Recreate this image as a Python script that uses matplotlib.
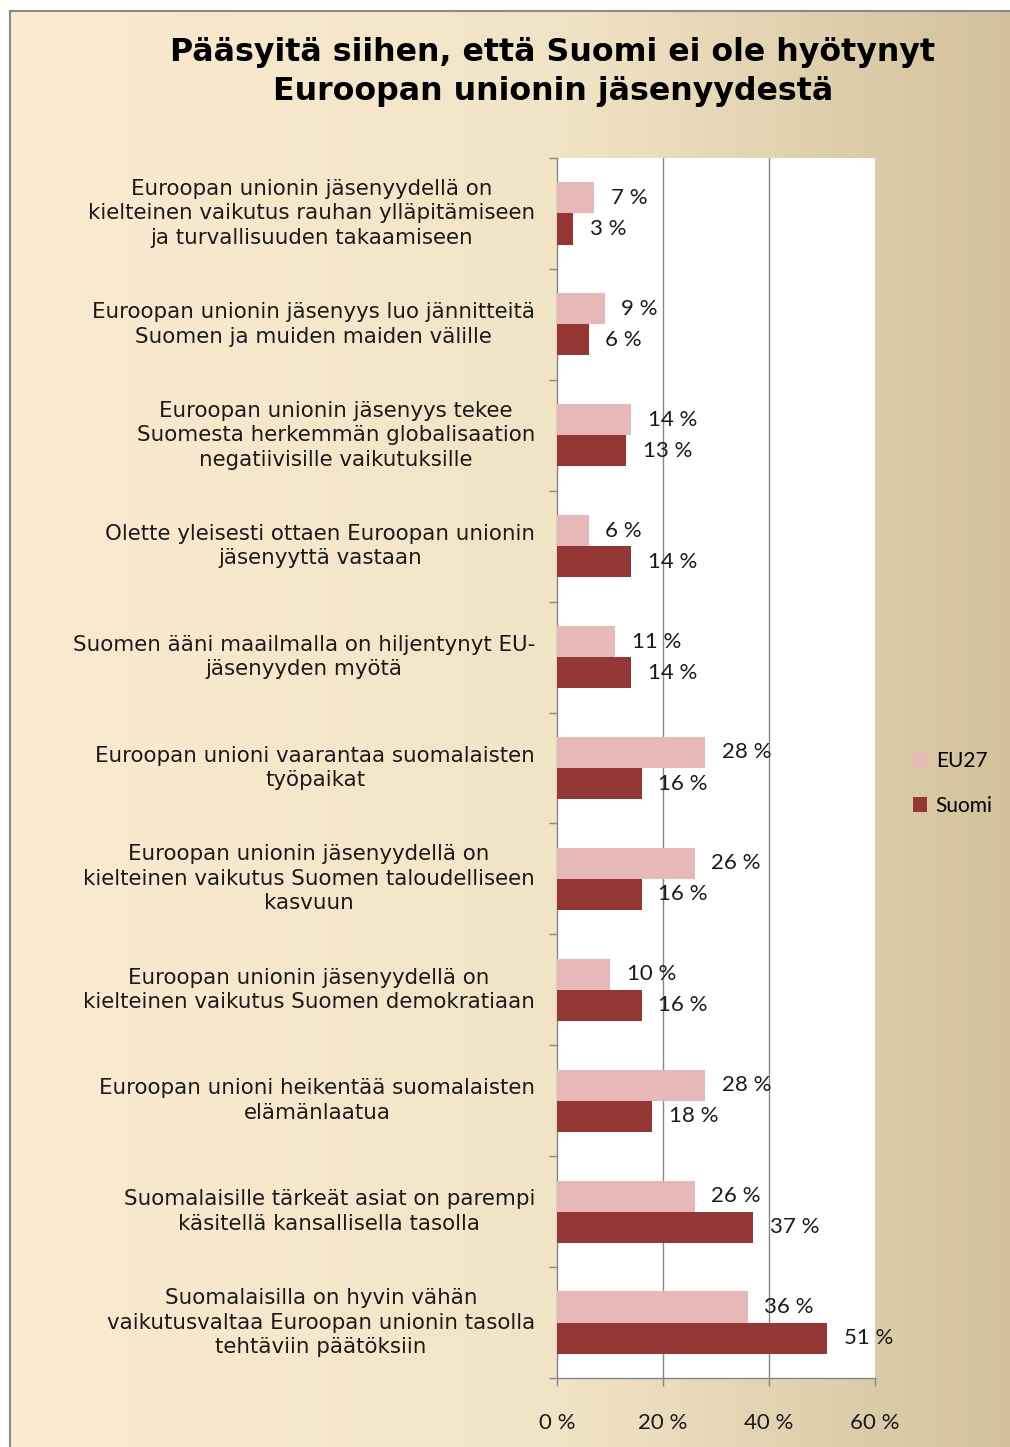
import numpy as np
import matplotlib
matplotlib.use("Agg")
import matplotlib.pyplot as plt
from matplotlib.colors import LinearSegmentedColormap
import matplotlib.transforms as mtransforms

# aineisto ylhäältä alas
categories = [
    "Euroopan unionin jäsenyydellä on\nkielteinen vaikutus rauhan ylläpitämiseen\nja turvallisuuden takaamiseen",
    "Euroopan unionin jäsenyys luo jännitteitä\nSuomen ja muiden maiden välille",
    "Euroopan unionin jäsenyys tekee\nSuomesta herkemmän globalisaation\nnegatiivisille vaikutuksille",
    "Olette yleisesti ottaen Euroopan unionin\njäsenyyttä vastaan",
    "Suomen ääni maailmalla on hiljentynyt EU-\njäsenyyden myötä",
    "Euroopan unioni vaarantaa suomalaisten\ntyöpaikat",
    "Euroopan unionin jäsenyydellä on\nkielteinen vaikutus Suomen taloudelliseen\nkasvuun",
    "Euroopan unionin jäsenyydellä on\nkielteinen vaikutus Suomen demokratiaan",
    "Euroopan unioni heikentää suomalaisten\nelämänlaatua",
    "Suomalaisille tärkeät asiat on parempi\nkäsitellä kansallisella tasolla",
    "Suomalaisilla on hyvin vähän\nvaikutusvaltaa Euroopan unionin tasolla\ntehtäviin päätöksiin",
]
eu27 = [7, 9, 14, 6, 11, 28, 26, 10, 28, 26, 36]
suomi = [3, 6, 13, 14, 14, 16, 16, 16, 18, 37, 51]
series_names = ["EU27", "Suomi"]
xticks = [0, 20, 40, 60]
xtick_labels = ["0 %", "20 %", "40 %", "60 %"]
title = "Pääsyitä siihen, että Suomi ei ole hyötynyt\nEuroopan unionin jäsenyydestä"

col_eu = "#E6B9B8"
col_fi = "#953735"
grid_col = "#868686"
txt_col = "#1a1a1a"

W, H = 1010, 1447
fig = plt.figure(figsize=(W / 100, H / 100), dpi=100)
fig.patch.set_facecolor("white")

# taustan liukuväri
bg = fig.add_axes([10 / W, 0, 1 - 10 / W, 1 - 11 / H], zorder=-10)
cmap = LinearSegmentedColormap.from_list(
    "bg", [(0, "#FBEBD1"), (0.55, "#F1E4C6"), (1.0, "#D2C19B")])
bg.imshow(np.linspace(0, 1, 256)[None, :], aspect="auto", cmap=cmap,
          extent=[0, 1, 0, 1])
bg.set_xlim(0, 1)
bg.set_ylim(0, 1)
bg.axis("off")
fig.add_artist(plt.Line2D([10 / W, 10 / W], [0, 1 - 11 / H], color="#8a8a8a", lw=1.5))
fig.add_artist(plt.Line2D([10 / W, 1], [1 - 11 / H, 1 - 11 / H], color="#8a8a8a", lw=1.5))

ax = fig.add_axes([557 / W, (H - 1378) / H, 318 / W, 1220 / H])
ax.set_facecolor("white")

y = np.arange(len(categories))
bh = 0.28
ax.barh(y - 0.14, eu27, height=bh, color=col_eu, label=series_names[0], zorder=3)
ax.barh(y + 0.14, suomi, height=bh, color=col_fi, label=series_names[1], zorder=3)

for yi, v in zip(y - 0.14, eu27):
    ax.annotate(f"{v} %", (v, yi), xytext=(12, 0), textcoords="offset points",
                va="center", ha="left", fontsize=16, family="Lato", color=txt_col, zorder=4)
for yi, v in zip(y + 0.14, suomi):
    ax.annotate(f"{v} %", (v, yi), xytext=(12, 0), textcoords="offset points",
                va="center", ha="left", fontsize=16, family="Lato", color=txt_col, zorder=4)

ax.set_xlim(0, 60)
ax.set_ylim(len(categories) - 0.5, -0.5)
ax.set_xticks(xticks)
ax.set_xticklabels(xtick_labels, fontsize=16, family="Lato", color=txt_col)
ax.set_yticks(np.arange(len(categories) + 1) - 0.5)
ax.set_yticklabels([])
ax.tick_params(axis="x", length=6, width=1, color=grid_col, pad=19)
ax.tick_params(axis="y", length=6, width=1, color=grid_col)

for g in [20, 40]:
    ax.axvline(g, color=grid_col, lw=1, zorder=1)

for s in ["top", "right"]:
    ax.spines[s].set_visible(False)
for s in ["left", "bottom"]:
    ax.spines[s].set_color(grid_col)
    ax.spines[s].set_linewidth(1)

trans = mtransforms.blended_transform_factory(ax.transAxes, ax.transData)
for yi, lab in zip(y, categories):
    ax.text(-0.069, yi, lab, transform=trans, ha="right", va="center",
            multialignment="center", fontsize=15.4, family="DejaVu Sans",
            color=txt_col, linespacing=1.28)

fig.text(553 / W, 1 - 72 / H, title, ha="center", va="center", fontsize=22.8,
         fontweight="bold", family="DejaVu Sans", color="black", linespacing=1.34)

leg = fig.legend(loc="upper left", bbox_to_anchor=(894 / W, 1 - 732 / H),
                 frameon=False, prop={"family": "Lato", "size": 15},
                 handlelength=0.7, handleheight=0.7, handletextpad=0.4,
                 labelspacing=1.2)

fig.savefig("out.png", dpi=100)
